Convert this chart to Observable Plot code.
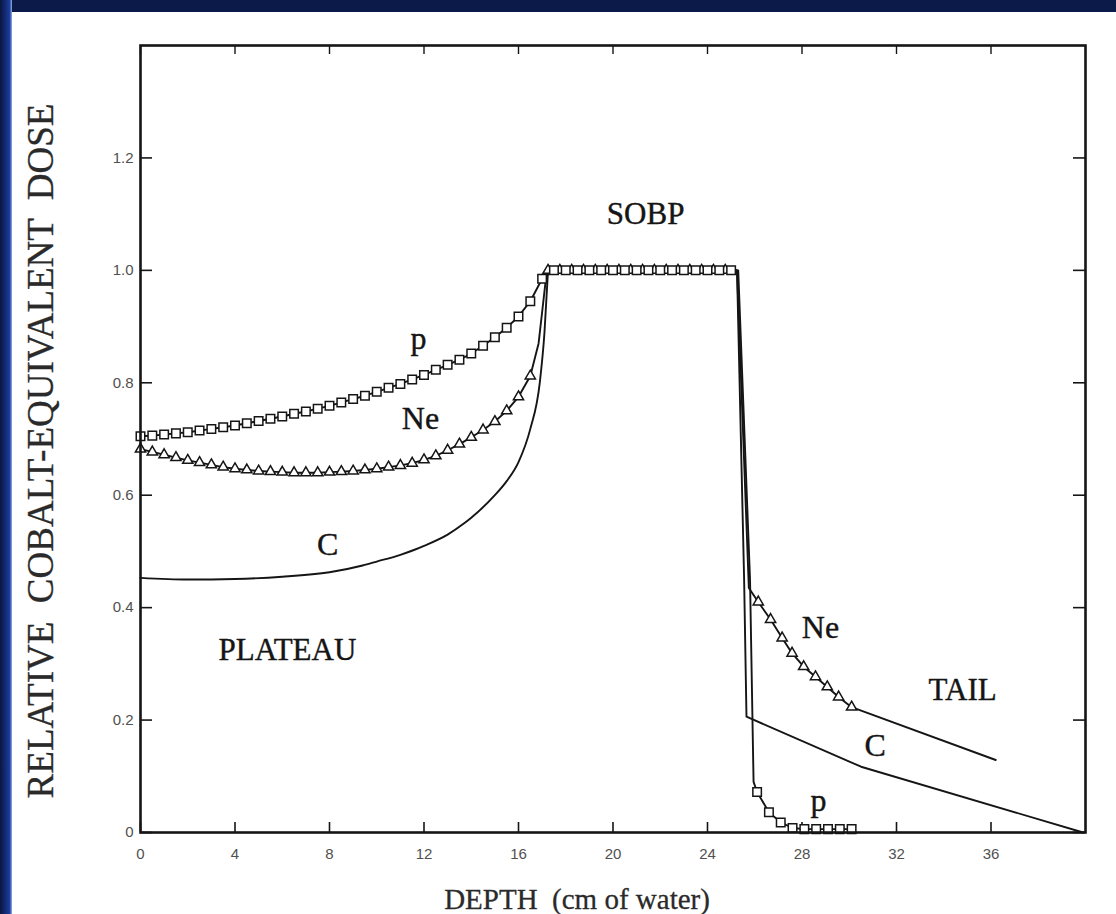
<!DOCTYPE html>
<html>
<head>
<meta charset="utf-8">
<script src="https://cdn.jsdelivr.net/npm/d3@7"></script>
<script src="https://cdn.jsdelivr.net/npm/@observablehq/plot@0.6"></script>
<style>
  html, body { margin: 0; padding: 0; background: #ffffff; }
  #wrap { position: relative; width: 1116px; height: 914px; overflow: hidden; background: #ffffff; }
  #topband { position: absolute; left: 0; top: 0; width: 1116px; height: 12px; background: #0b1a48; z-index: 5; }
  #leftband { position: absolute; left: 0; top: 0; width: 12px; height: 914px; background: linear-gradient(to right, #0a1640, #1c3c9c 80%, #8fb0e0); z-index: 5; }
  #chart svg { display: block; }
  #chart g[aria-label="x-axis tick label"] text,
  #chart g[aria-label="y-axis tick label"] text { fill: #505050; }
</style>
</head>
<body>
<div id="wrap">
  <div id="topband"></div>
  <div id="leftband"></div>
  <div id="chart"></div>
</div>
<script>
// ---- Axis ticks ----
const xTicks = [0, 4, 8, 12, 16, 20, 24, 28, 32, 36];
const yTicks = [0, 0.2, 0.4, 0.6, 0.8, 1.0, 1.2];
const yTickLabels = ["0", "0.2", "0.4", "0.6", "0.8", "1.0", "1.2"];

// ---- Proton (p) markers: plateau, SOBP, tail ----
const pDepth = [0, 0.5, 1, 1.5, 2, 2.5, 3, 3.5, 4, 4.5, 5, 5.5, 6, 6.5, 7, 7.5, 8, 8.5, 9, 9.5,
  10, 10.5, 11, 11.5, 12, 12.5, 13, 13.5, 14, 14.5, 15, 15.5, 16, 16.5, 17,
  17.5, 18, 18.5, 19, 19.5, 20, 20.5, 21, 21.5, 22, 22.5, 23, 23.5, 24, 24.5, 25,
  26.1, 26.6, 27.1, 27.6, 28.1, 28.6, 29.1, 29.6, 30.1];
const pDose = [0.705, 0.706, 0.708, 0.710, 0.712, 0.715, 0.718, 0.721, 0.724, 0.728, 0.732, 0.736, 0.740, 0.745, 0.749, 0.754, 0.759, 0.765, 0.771, 0.777,
  0.784, 0.791, 0.798, 0.806, 0.814, 0.823, 0.832, 0.841, 0.852, 0.866, 0.881, 0.898, 0.918, 0.945, 0.985,
  1.0, 1.0, 1.0, 1.0, 1.0, 1.0, 1.0, 1.0, 1.0, 1.0, 1.0, 1.0, 1.0, 1.0, 1.0, 1.0,
  0.072, 0.036, 0.018, 0.008, 0.006, 0.006, 0.006, 0.006, 0.006];
// p line-only vertices (distal fall-off)
const pEdgeDepth = [25.3, 25.8, 25.95];
const pEdgeDose = [1.0, 0.45, 0.09];

// ---- Neon (Ne) markers ----
const neDepth = [0, 0.5, 1, 1.5, 2, 2.5, 3, 3.5, 4, 4.5, 5, 5.5, 6, 6.5, 7, 7.5, 8, 8.5, 9, 9.5,
  10, 10.5, 11, 11.5, 12, 12.5, 13, 13.5, 14, 14.5, 15, 15.5, 16, 16.5,
  17.25, 17.75, 18.25, 18.75, 19.25, 19.75, 20.25, 20.75, 21.25, 21.75, 22.25, 22.75, 23.25, 23.75, 24.25, 24.75,
  26.15, 26.67, 27.16, 27.58, 28.07, 28.57, 29.07, 29.55, 30.1];
const neDose = [0.682, 0.677, 0.672, 0.667, 0.662, 0.658, 0.654, 0.650, 0.647, 0.645, 0.643, 0.642, 0.641, 0.640, 0.640, 0.640, 0.641, 0.642, 0.643, 0.645,
  0.647, 0.650, 0.653, 0.657, 0.663, 0.670, 0.680, 0.691, 0.703, 0.716, 0.731, 0.750, 0.775, 0.812,
  1.0, 1.0, 1.0, 1.0, 1.0, 1.0, 1.0, 1.0, 1.0, 1.0, 1.0, 1.0, 1.0, 1.0, 1.0, 1.0,
  0.410, 0.379, 0.346, 0.319, 0.295, 0.277, 0.259, 0.241, 0.223];
// Ne line-only vertices
const neEdgeDepth = [16.85, 17.2, 25.25, 25.75, 36.2];
const neEdgeDose = [0.87, 1.0, 1.0, 0.435, 0.129];

// ---- Carbon (C) curve (line only) ----
const cDepth = [0, 2, 4, 6, 8, 9.4, 10, 11, 11.6, 12, 13, 13.7, 14, 15, 15.5, 16, 16.5, 16.9, 17.1, 17.25,
  25.25, 25.55, 25.65, 30.5, 39.9];
const cDose = [0.453, 0.450, 0.451, 0.455, 0.463, 0.475, 0.482, 0.494, 0.503, 0.510, 0.530, 0.550, 0.560, 0.600, 0.625, 0.659, 0.718, 0.800, 0.890, 1.0,
  1.0, 0.45, 0.206, 0.117, 0.0];

// ---- Annotations ----
const regionText = ["SOBP", "PLATEAU", "TAIL"];
const regionDepth = [21.38, 6.22, 34.8];
const regionDose = [1.10, 0.325, 0.254];
const curveText = ["p", "Ne", "C", "Ne", "C", "p"];
const curveDepth = [11.77, 11.85, 7.92, 28.78, 31.1, 28.7];
const curveDose = [0.879, 0.736, 0.5125, 0.364, 0.155, 0.057];

// ---- Build tables ----
const zip = (xs, ys) => xs.map((x, i) => ({depth: x, dose: ys[i]}));
const pMarks = zip(pDepth, pDose);
const neMarks = zip(neDepth, neDose);
const pLine = pMarks.concat(zip(pEdgeDepth, pEdgeDose)).sort((a, b) => a.depth - b.depth);
const neLine = neMarks.concat(zip(neEdgeDepth, neEdgeDose)).sort((a, b) => a.depth - b.depth);
const cLine = zip(cDepth, cDose);
const cPlateau = cLine.filter(d => d.depth <= 17.25);   // smooth part
const cDistal = cLine.filter(d => d.depth >= 17.25);    // straight segments
const regions = regionText.map((t, i) => ({text: t, depth: regionDepth[i], dose: regionDose[i]}));
const curves = curveText.map((t, i) => ({text: t, depth: curveDepth[i], dose: curveDose[i]}));

const W = 1116, H = 914, ML = 140, MR = 31, MT = 45, MB = 82;
const plotW = W - ML - MR, plotH = H - MT - MB;
const serif = "'Liberation Serif', 'Times New Roman', serif";
const sans = "'Liberation Sans', Arial, sans-serif";
const ink = "#151515";

const chart = Plot.plot({
  width: W,
  height: H,
  marginLeft: ML,
  marginRight: MR,
  marginTop: MT,
  marginBottom: MB,
  style: {background: "transparent", color: ink},
  x: {domain: [0, 40]},
  y: {domain: [0, 1.4]},
  marks: [
    // inward ticks on all four sides
    Plot.tickX(xTicks, {x: d => d, insetTop: plotH - 10, stroke: ink, strokeWidth: 1.6}),
    Plot.tickX(xTicks, {x: d => d, insetBottom: plotH - 9, stroke: ink, strokeWidth: 1.4}),
    Plot.tickY(yTicks, {y: d => d, insetRight: plotW - 12, stroke: ink, strokeWidth: 1.6}),
    Plot.tickY(yTicks, {y: d => d, insetLeft: plotW - 12, stroke: ink, strokeWidth: 1.6}),
    Plot.axisX({ticks: xTicks, tickSize: 0, tickPadding: 16, fontSize: 15, fontFamily: sans, label: null}),
    Plot.axisY({ticks: yTicks, tickSize: 0, tickPadding: 7, fontSize: 15, fontFamily: sans,
      tickFormat: d => yTickLabels[yTicks.indexOf(d)], label: null}),
    // curves
    Plot.line(cPlateau, {x: "depth", y: "dose", curve: "monotone-x", stroke: ink, strokeWidth: 1.9}),
    Plot.line(cDistal, {x: "depth", y: "dose", stroke: ink, strokeWidth: 1.9}),
    Plot.line(neLine, {x: "depth", y: "dose", stroke: ink, strokeWidth: 1.9}),
    Plot.line(pLine, {x: "depth", y: "dose", stroke: ink, strokeWidth: 1.9}),
    Plot.dot(neMarks, {x: "depth", y: "dose", symbol: "triangle", r: 3.8, stroke: ink, fill: "white", strokeWidth: 1.5}),
    Plot.dot(pMarks, {x: "depth", y: "dose", symbol: "square", r: 4.8, stroke: ink, fill: "white", strokeWidth: 1.5}),
    // frame
    Plot.frame({stroke: ink, strokeWidth: 2.6}),
    // annotations
    Plot.text(regions, {x: "depth", y: "dose", text: "text", fontSize: 31, fontFamily: serif, fill: ink, stroke: ink, strokeWidth: 0.4, textAnchor: "middle", lineAnchor: "middle"}),
    Plot.text(curves, {x: "depth", y: "dose", text: "text", fontSize: 32, fontFamily: serif, fill: ink, stroke: ink, strokeWidth: 0.4, textAnchor: "middle", lineAnchor: "middle"}),
    // axis titles
    Plot.text(["RELATIVE  COBALT-EQUIVALENT  DOSE"], {frameAnchor: "left", dx: -99, dy: 12, rotate: -90, fontSize: 37, fontFamily: serif, fill: "#2a2a2a", stroke: "#2a2a2a", strokeWidth: 0.3, textAnchor: "middle", lineAnchor: "middle"}),
    Plot.text(["DEPTH  (cm of water)"], {frameAnchor: "bottom", dx: -36, dy: 67, fontSize: 29, fontFamily: serif, fill: "#2a2a2a", stroke: "#2a2a2a", strokeWidth: 0.3, textAnchor: "middle", lineAnchor: "middle"})
  ]
});
document.getElementById("chart").appendChild(chart);
</script>
</body>
</html>
